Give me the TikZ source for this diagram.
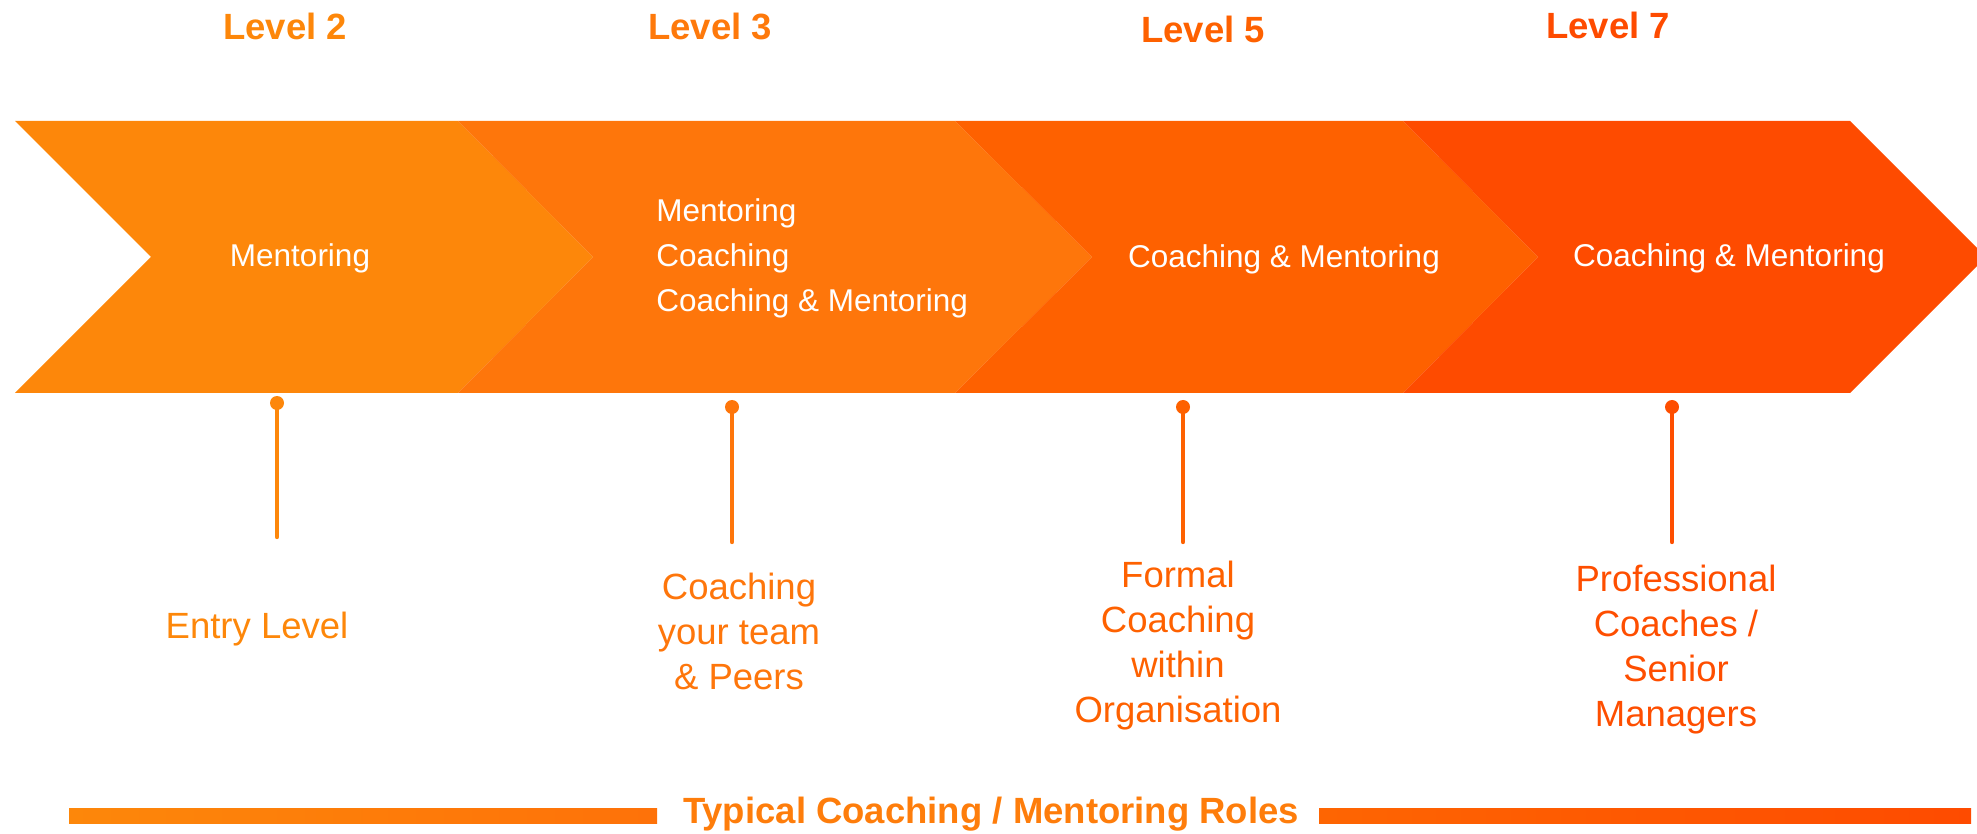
\documentclass[tikz,border=0pt]{standalone}
\usepackage{fontspec}
\setmainfont{Liberation Sans}
\usepackage{xcolor}
\usepackage{tikz}
\usetikzlibrary{calc}
\definecolor{orA}{HTML}{FD870A}
\definecolor{orB}{HTML}{FE760B}
\definecolor{orC}{HTML}{FE6100}
\definecolor{orD}{HTML}{FE4B00}

\begin{document}
\begin{tikzpicture}[x=0.5pt,y=-0.5pt,line cap=round,line join=round,
  inlabel/.style={text=white,inner sep=0pt,font=\fontsize{15.75}{22.5}\selectfont},
  leveltxt/.style={inner sep=0pt,anchor=base,font=\fontsize{18.25}{22}\selectfont\bfseries},
  role/.style={inner sep=0pt,align=center,font=\fontsize{18.25}{22.5}\selectfont},
  pindot/.style={circle,inner sep=0pt,minimum size=7pt},
  pinline/.style={line width=2.2pt}]
\useasboundingbox (0,0) rectangle (1977,834);
% chevrons
\fill [orA] (15,121) -- (458,121) -- (593,257) -- (458,393) -- (15,393) -- (151,257) -- cycle;
\fill [orB] (458,121) -- (955,121) -- (1092,257) -- (955,393) -- (458,393) -- (593,257) -- cycle;
\fill [orC] (955,121) -- (1403,121) -- (1538,257) -- (1403,393) -- (955,393) -- (1092,257) -- cycle;
\fill [orD] (1403,121) -- (1850,121) -- (1986,257) -- (1850,393) -- (1403,393) -- (1538,257) -- cycle;
% texts inside
\node [inlabel] (in2) at (300,258) {Mentoring};
\node [inlabel,anchor=west,align=left] (in3) at (656,258) {Mentoring\\Coaching\\Coaching \& Mentoring};
\node [inlabel] (in5) at (1284,259) {Coaching \& Mentoring};
\node [inlabel] (in7) at (1729,258) {Coaching \& Mentoring};
% levels
\node [leveltxt,text=orA] (lv2) at (285,40) {Level 2};
\node [leveltxt,text=orB!85!orA] (lv3) at (710,40) {Level 3};
\node [leveltxt,text=orC] (lv5) at (1203,43) {Level 5};
\node [leveltxt,text=orD] (lv7) at (1608,39) {Level 7};
% pins
\node [pindot,fill=orA] (d2) at (277,403) {};
\node [pindot,fill=orB] (d3) at (732,407) {};
\node [pindot,fill=orC] (d5) at (1183,407) {};
\node [pindot,fill=orD!85!orC] (d7) at (1672,407) {};
\coordinate (e2) at (277,537);
\coordinate (e3) at (732,542);
\coordinate (e5) at (1183,542);
\coordinate (e7) at (1672,542);
\draw [pinline,orA] (d2.center) -- (e2);
\draw [pinline,orB] (d3.center) -- (e3);
\draw [pinline,orC] (d5.center) -- (e5);
\draw [pinline,orD!85!orC] (d7.center) -- (e7);
% roles
\node [role,anchor=base,text=orA] (r2) at (257,638) {Entry Level};
\node [role,anchor=north,text=orB] (r3) at (739,573) {Coaching\\your team\\\& Peers};
\node [role,anchor=north,text=orC] (r5) at (1178,561) {Formal\\Coaching\\within\\Organisation};
\node [role,anchor=north,text=orD!85!orC] (r7) at (1676,565) {Professional\\Coaches /\\Senior\\Managers};
% bottom bar
\shade [left color=orA,right color=orB!80!orC] (69,808) rectangle (657,823);
\shade [left color=orC!80!orB,right color=orD] (1319,808) rectangle (1971,823);
\node [leveltxt,text=orB!60!orA] (roles) at (991,823) {Typical Coaching / Mentoring Roles};
\end{tikzpicture}
\end{document}
